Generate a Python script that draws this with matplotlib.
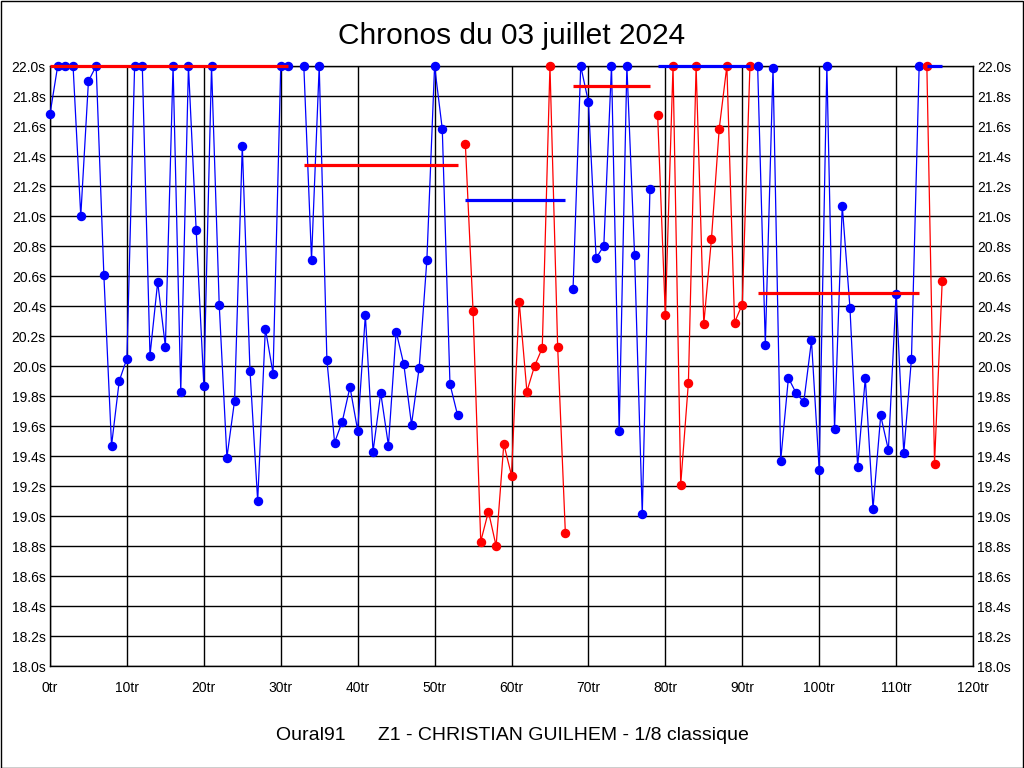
#Chronos du 03 juillet 2024 - temps au tour par relais

import numpy as np
import matplotlib as mpl
import matplotlib.pyplot as plt
from matplotlib.patches import Rectangle
mpl.rcParams['font.family'] = ['Liberation Sans', 'DejaVu Sans']

#temps au tour (s), nan = tour absent / hors echelle
laps = np.arange(0, 117)
times = [
    21.68, 22.0, 22.0, 22.0, 21.0, 21.9, 22.0, 20.61, 19.47, 19.9,
    20.05, 22.0, 22.0, 20.07, 20.56, 20.13, 22.0, 19.83, 22.0, 20.91,
    19.87, 22.0, 20.41, 19.39, 19.77, 21.47, 19.97, 19.1, 20.25, 19.95,
    22.0, 22.0, np.nan, 22.0, 20.71, 22.0, 20.04, 19.49, 19.63, 19.86,
    19.57, 20.34, 19.43, 19.82, 19.47, 20.23, 20.01, 19.61, 19.99, 20.71,
    22.0, 21.58, 19.88, 19.67, 21.48, 20.37, 18.83, 19.03, 18.8, 19.48,
    19.27, 20.43, 19.83, 20.0, 20.12, 22.0, 20.13, 18.89, 20.51, 22.0,
    21.76, 20.72, 20.8, 22.0, 19.57, 22.0, 20.74, 19.01, 21.18, 21.67,
    20.34, 22.0, 19.21, 19.89, 22.0, 20.28, 20.85, 21.58, 22.0, 20.29,
    20.41, 22.0, 22.0, 20.14, 21.99, 19.37, 19.92, 19.82, 19.76, 20.17,
    19.31, 22.0, 19.58, 21.07, 20.39, 19.33, 19.92, 19.05, 19.67, 19.44,
    20.48, 19.42, 20.05, 22.0, 22.0, 19.35, 20.57,
]
times = np.array(times)

#relais : premier tour, dernier tour, couleur, moyenne
seg_start = [0, 33, 54, 68, 79, 92, 114]
seg_end = [31, 53, 67, 78, 91, 113, 116]
seg_color = ['blue', 'blue', 'red', 'blue', 'red', 'blue', 'red']
seg_avg = [22.0, 21.34, 21.11, 21.87, 22.0, 20.49, 22.0]

x_ticks = np.arange(0, 121, 10)
y_ticks = np.arange(18.0, 22.01, 0.2)

fig = plt.figure(figsize=(10.24, 7.68), dpi=100)
ax = fig.add_axes([50/1024, 102/768, 923/1024, 600/768])

for a, b, c, m in zip(seg_start, seg_end, seg_color, seg_avg):
    sel = (laps >= a) & (laps <= b)
    ax.plot(laps[sel], times[sel], '-', color=c, lw=0.9, zorder=3)
    ax.plot(laps[sel], times[sel], 'o', color=c, ms=5.8, zorder=4, clip_on=False)
    other = 'red' if c == 'blue' else 'blue'
    ax.plot([a, b], [m, m], '-', color=other, lw=2.3, zorder=5,
            solid_capstyle='butt', clip_on=False)

ax.set_xlim(0, 120)
ax.set_ylim(18.0, 22.0)
ax.set_xticks(x_ticks)
ax.set_xticklabels(['%dtr' % v for v in x_ticks])
ax.set_yticks(y_ticks)
ax.set_yticklabels(['%.1fs' % v for v in y_ticks])
ax.tick_params(axis='both', length=0, labelsize=10, pad=3)
ax.tick_params(axis='x', pad=11)
ax.tick_params(axis='y', labelright=True, right=True)
ax.grid(True, color='black', lw=1)
ax.set_axisbelow(True)
for s in ax.spines.values():
    s.set_color('black')
    s.set_linewidth(1)

fig.text(0.5, 1 - 36/768, 'Chronos du 03 juillet 2024', ha='center', va='center', fontsize=21.5)
fig.text(0.5, 1 - 736/768, 'Oural91      Z1 - CHRISTIAN GUILHEM - 1/8 classique',
         ha='center', va='center', fontsize=14)
fig.patches.append(Rectangle((0.5/1024, 0.5/768), 1 - 1.5/1024, 1 - 1.5/768,
                             transform=fig.transFigure, fill=False, ec='black', lw=1))

fig.savefig('out.png', dpi=100)
